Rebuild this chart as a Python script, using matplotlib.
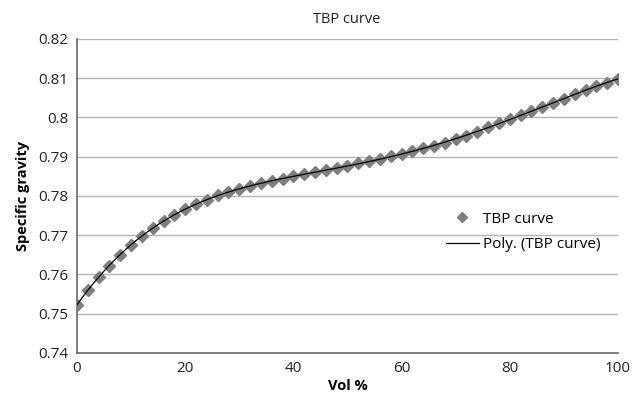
import numpy as np
import matplotlib
matplotlib.use("Agg")
import matplotlib.pyplot as plt

vol_pct = list(range(0, 101, 2))
specific_gravity = [
    0.7523, 0.7561, 0.7593, 0.7622, 0.7650, 0.7676, 0.7698, 0.7718, 0.7737, 0.7752,
    0.7767, 0.7780, 0.7791, 0.7802, 0.7810, 0.7817, 0.7825, 0.7832, 0.7838, 0.7844,
    0.7850, 0.7855, 0.7861, 0.7866, 0.7871, 0.7877, 0.7883, 0.7889, 0.7894, 0.7901,
    0.7907, 0.7914, 0.7921, 0.7928, 0.7936, 0.7944, 0.7953, 0.7964, 0.7975, 0.7985,
    0.7996, 0.8006, 0.8017, 0.8027, 0.8038, 0.8048, 0.8059, 0.8069, 0.8079, 0.8089,
    0.8099,
]
x_ticks = [0, 20, 40, 60, 80, 100]
y_ticks = [0.74, 0.75, 0.76, 0.77, 0.78, 0.79, 0.80, 0.81, 0.82]
y_tick_labels = ["0.74", "0.75", "0.76", "0.77", "0.78", "0.79", "0.8", "0.81", "0.82"]

plt.rcParams['font.family'] = ['Open Sans', 'DejaVu Sans']

fig = plt.figure(figsize=(6.32, 3.99), dpi=100)
ax = fig.add_axes([0.1218, 0.1153, 0.856, 0.7870])

x = np.array(vol_pct, dtype=float)
y = np.array(specific_gravity)
coef = np.polyfit(x, y, 4)
xs = np.linspace(0, 100, 400)

ax.plot(x, y, linestyle='none', marker='D', markersize=6.5, color='#7f7f7f',
        markeredgecolor='#7f7f7f', label='TBP curve', zorder=3)
ax.plot(xs, np.polyval(coef, xs), color='#000000', linewidth=0.9,
        label='Poly. (TBP curve)', zorder=4)

ax.set_xlim(0, 100)
ax.set_ylim(0.74, 0.82)
ax.set_xticks(x_ticks)
ax.set_yticks(y_ticks)
ax.set_yticklabels(y_tick_labels)
ax.tick_params(length=0, labelsize=11, colors='#222222', pad=6)
ax.grid(axis='y', color='#b4b4b4', linewidth=1.0)
ax.set_axisbelow(True)
for s in ['top', 'right']:
    ax.spines[s].set_visible(False)
for s in ['left', 'bottom']:
    ax.spines[s].set_color('#6a6a6a')
    ax.spines[s].set_linewidth(1.2)

ax.set_xlabel('Vol %', fontsize=10.5, fontweight='bold', labelpad=2)
ax.set_ylabel('Specific gravity', fontsize=10.5, fontweight='bold', labelpad=6)
fig.text(0.548, 0.952, 'TBP curve', ha='center', va='center', fontsize=10.5, color='#222222')

leg = ax.legend(loc='center left', bbox_to_anchor=(0.656, 0.385), frameon=False,
                fontsize=11, handlelength=2.2, handletextpad=0.25,
                markerscale=0.8, labelspacing=0.7)

fig.savefig('out.png', dpi=100)
